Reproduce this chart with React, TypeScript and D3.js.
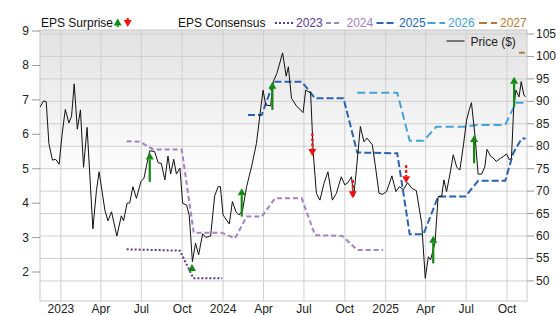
import React from "react";
import * as d3 from "d3";

const W = 556, H = 315;
const L = 40, R = 527, T = 30, B = 301;

const priceData: [string, number][] = [
  ["2022-11-15", 88.7], ["2022-11-23", 90.1], ["2022-11-29", 89.9], ["2022-12-05", 80.6],
  ["2022-12-13", 76.9], ["2022-12-20", 77.1], ["2022-12-28", 76.0], ["2023-01-04", 82.9],
  ["2023-01-11", 88.2], ["2023-01-19", 85.2], ["2023-01-25", 86.7], ["2023-01-31", 93.9],
  ["2023-02-07", 83.8], ["2023-02-14", 88.1], ["2023-02-21", 75.3], ["2023-03-01", 84.2],
  ["2023-03-14", 61.6], ["2023-03-22", 70.1], ["2023-03-28", 74.3], ["2023-04-10", 65.8],
  ["2023-04-17", 63.4], ["2023-04-25", 65.4], ["2023-05-07", 60.0], ["2023-05-17", 64.5],
  ["2023-05-22", 63.4], ["2023-05-30", 67.3], ["2023-06-05", 67.4], ["2023-06-12", 71.0],
  ["2023-06-20", 68.4], ["2023-06-30", 72.1], ["2023-07-07", 72.9], ["2023-07-13", 75.8],
  ["2023-07-20", 79.0], ["2023-07-31", 78.8], ["2023-08-08", 76.3], ["2023-08-15", 76.2],
  ["2023-08-23", 72.5], ["2023-08-30", 77.8], ["2023-09-05", 73.8], ["2023-09-12", 77.1],
  ["2023-09-18", 73.8], ["2023-09-26", 75.1], ["2023-10-02", 67.3], ["2023-10-11", 66.9],
  ["2023-10-17", 64.5], ["2023-10-24", 54.3], ["2023-10-31", 58.4], ["2023-11-07", 55.8],
  ["2023-11-16", 60.5], ["2023-11-23", 59.7], ["2023-12-04", 60.0], ["2023-12-13", 68.9],
  ["2023-12-21", 71.0], ["2023-12-26", 71.0], ["2024-01-01", 64.7], ["2024-01-15", 62.7],
  ["2024-01-22", 67.7], ["2024-01-30", 65.4], ["2024-02-06", 64.7], ["2024-02-14", 65.8],
  ["2024-02-23", 71.0], ["2024-03-05", 75.4], ["2024-03-16", 80.6], ["2024-03-24", 87.0],
  ["2024-03-31", 92.5], ["2024-04-06", 89.2], ["2024-04-17", 89.0], ["2024-04-23", 94.4],
  ["2024-05-01", 96.2], ["2024-05-14", 100.8], ["2024-05-22", 95.6], ["2024-05-27", 97.7],
  ["2024-06-03", 90.7], ["2024-06-14", 89.0], ["2024-06-29", 87.5], ["2024-07-05", 92.5],
  ["2024-07-10", 92.2], ["2024-07-16", 92.0], ["2024-07-22", 78.4], ["2024-07-29", 69.5],
  ["2024-08-06", 68.0], ["2024-08-15", 71.7], ["2024-08-24", 74.3], ["2024-09-03", 68.0],
  ["2024-09-12", 69.5], ["2024-09-23", 73.2], ["2024-10-01", 71.4], ["2024-10-08", 71.9],
  ["2024-10-16", 73.2], ["2024-10-21", 68.8], ["2024-10-27", 74.7], ["2024-11-05", 84.4],
  ["2024-11-13", 81.0], ["2024-11-20", 81.8], ["2024-12-02", 80.3], ["2024-12-09", 75.4],
  ["2024-12-17", 69.5], ["2024-12-25", 69.3], ["2025-01-03", 69.9], ["2025-01-15", 73.4],
  ["2025-01-24", 69.9], ["2025-02-01", 71.0], ["2025-02-10", 70.3], ["2025-02-19", 71.9],
  ["2025-03-01", 70.6], ["2025-03-11", 70.1], ["2025-03-18", 65.8], ["2025-03-23", 62.8],
  ["2025-03-31", 50.6], ["2025-04-07", 55.4], ["2025-04-12", 54.7], ["2025-04-22", 58.5],
  ["2025-04-29", 68.8], ["2025-05-07", 68.8], ["2025-05-12", 72.5], ["2025-05-18", 69.9],
  ["2025-05-26", 74.0], ["2025-06-02", 78.1], ["2025-06-10", 75.3], ["2025-06-17", 74.7],
  ["2025-06-25", 80.3], ["2025-07-02", 85.8], ["2025-07-08", 88.1], ["2025-07-13", 89.7],
  ["2025-07-21", 82.3], ["2025-07-28", 73.8], ["2025-08-05", 73.8], ["2025-08-12", 75.4],
  ["2025-08-17", 79.3], ["2025-08-25", 77.8], ["2025-09-01", 77.3], ["2025-09-07", 76.6],
  ["2025-09-16", 77.3], ["2025-09-24", 77.8], ["2025-09-30", 78.3], ["2025-10-06", 77.0],
  ["2025-10-11", 77.3], ["2025-10-16", 88.4], ["2025-10-21", 92.5], ["2025-10-28", 91.0],
  ["2025-11-02", 94.4], ["2025-11-08", 91.4], ["2025-11-12", 91.0],
];

const cons2023: [string, number][] = [
  ["2023-05-29", 2.66], ["2023-07-28", 2.64], ["2023-09-26", 2.62], ["2023-10-26", 1.82], ["2023-12-30", 1.82],
];
const cons2024: [string, number][] = [
  ["2023-05-29", 5.80], ["2023-06-28", 5.78], ["2023-07-28", 5.56], ["2023-09-30", 5.56],
  ["2023-10-27", 3.14], ["2023-12-29", 3.14], ["2024-01-28", 2.98], ["2024-02-23", 3.61],
  ["2024-03-28", 3.61], ["2024-04-27", 4.14], ["2024-06-26", 4.14], ["2024-07-26", 3.07],
  ["2024-09-25", 3.05], ["2024-10-29", 2.64], ["2024-12-26", 2.64],
];
const cons2025: [string, number][] = [
  ["2024-02-26", 6.56], ["2024-03-28", 6.56], ["2024-04-24", 7.53], ["2024-06-26", 7.53],
  ["2024-07-26", 7.05], ["2024-09-28", 7.05], ["2024-10-29", 5.47], ["2025-01-27", 5.45],
  ["2025-02-24", 3.10], ["2025-03-27", 3.10], ["2025-04-29", 4.19], ["2025-06-29", 4.19],
  ["2025-07-28", 4.65], ["2025-09-27", 4.65], ["2025-10-15", 5.45], ["2025-11-03", 5.88],
  ["2025-11-12", 5.88],
];
const cons2026: [string, number][] = [
  ["2024-10-29", 7.21], ["2025-01-27", 7.21], ["2025-02-24", 5.81], ["2025-03-27", 5.81],
  ["2025-04-25", 6.22], ["2025-06-29", 6.22], ["2025-07-24", 6.27], ["2025-09-27", 6.27],
  ["2025-10-21", 6.92], ["2025-11-12", 6.92],
];
const cons2027: [string, number][] = [
  ["2025-10-28", 8.37], ["2025-11-10", 8.37],
];

// EPS surprises: [date, consensus, actual]
const surprises: [string, number, number][] = [
  ["2023-07-20", 4.62, 5.47], ["2023-10-23", 2.06, 2.23], ["2024-02-12", 3.61, 4.43],
  ["2024-04-21", 6.71, 7.53], ["2024-07-20", 6.03, 5.37], ["2024-10-19", 4.67, 4.14],
  ["2025-02-16", 5.11, 4.58], ["2025-04-18", 2.25, 3.05], ["2025-07-19", 5.16, 5.98],
  ["2025-10-17", 6.80, 7.67],
];

const epsTicks = [2, 3, 4, 5, 6, 7, 8, 9];
const priceTicks = [50, 55, 60, 65, 70, 75, 80, 85, 90, 95, 100, 105];
const seriesNames = ["2023", "2024", "2025", "2026", "2027"];
const seriesColors = ["#5b3a8f", "#a084c4", "#2a63b0", "#45a3d6", "#b07c35"];
const seriesDash = ["2,2", "5,3", "7,3", "8,4", "8,4"];
const consSeries = [cons2023, cons2024, cons2025, cons2026, cons2027];

const parse = d3.timeParse("%Y-%m-%d");
const FONT = "'Liberation Sans', Arial, Helvetica, sans-serif";

export default function App() {
  const x = d3.scaleTime()
    .domain([parse("2022-11-15")!, parse("2025-11-15")!])
    .range([L, R]);
  const yEps = d3.scaleLinear().domain([1.158, 9.03]).range([B, T]);
  const yPrice = d3.scaleLinear().domain([45.53, 105.89]).range([B, T]);

  const xTicks = d3.timeMonth.range(parse("2023-01-01")!, parse("2025-11-01")!, 3);
  const fmtTick = (d: Date) => (d.getMonth() === 0 ? d3.timeFormat("%Y")(d) : d3.timeFormat("%b")(d));

  const priceLine = d3.line<[string, number]>()
    .x((d) => x(parse(d[0])!))
    .y((d) => yPrice(d[1]));
  const epsLine = d3.line<[string, number]>()
    .x((d) => x(parse(d[0])!))
    .y((d) => yEps(d[1]));

  const arrow = (cx: number, y0: number, y1: number, up: boolean, color: string, dashed: boolean, key: string) => {
    const hh = 7, hw = 4;
    const yBase = up ? y1 + hh : y1 - hh;
    return (
      <g key={key}>
        <line x1={cx} x2={cx} y1={y0} y2={yBase} stroke={color} strokeWidth={2.2}
          strokeDasharray={dashed ? "3,2" : undefined} />
        <path d={`M${cx - hw},${yBase}L${cx + hw},${yBase}L${cx},${y1}Z`} fill={color} />
      </g>
    );
  };

  const legendSamples = [
    [275, 293, 296], [326, 342, 346.5], [376.5, 396.5, 399], [427.5, 445, 448], [479, 497, 500],
  ];

  return (
    <svg width={W} height={H} style={{ position: "absolute", left: 0, top: 0, fontFamily: FONT }}>
      <defs>
        <linearGradient id="bg" x1="0" y1="0" x2="0" y2="1">
          <stop offset="0" stopColor="#e2e2e2" />
          <stop offset="0.55" stopColor="#ffffff" />
          <stop offset="1" stopColor="#ffffff" />
        </linearGradient>
        <clipPath id="plot">
          <rect x={L} y={T} width={R - L} height={B - T} />
        </clipPath>
      </defs>
      <rect x={0} y={0} width={W} height={H} fill="#fff" />
      <rect x={L} y={T} width={R - L} height={B - T} fill="url(#bg)" />

      {/* grid */}
      {priceTicks.map((p) => (
        <line key={"hg" + p} x1={L} x2={R} y1={yPrice(p)} y2={yPrice(p)} stroke="#cfcfcf" strokeWidth={1} />
      ))}
      {xTicks.map((d, i) => (
        <line key={"vg" + i} x1={x(d)} x2={x(d)} y1={T} y2={B} stroke="#cfcfcf" strokeWidth={1} />
      ))}
      <rect x={L} y={T} width={R - L} height={B - T} fill="none" stroke="#c8c8c8" strokeWidth={1} />

      {/* axes */}
      {epsTicks.map((v) => (
        <g key={"lt" + v}>
          <line x1={32} x2={L} y1={yEps(v)} y2={yEps(v)} stroke="#999" />
          <text x={29} y={yEps(v) + 4} textAnchor="end" fontSize={12} fill="#222">{v}</text>
        </g>
      ))}
      {priceTicks.map((p) => (
        <g key={"rt" + p}>
          <line x1={R} x2={534} y1={yPrice(p)} y2={yPrice(p)} stroke="#999" />
          <text x={536} y={yPrice(p) + 4} textAnchor="start" fontSize={12} fill="#222">{p}</text>
        </g>
      ))}
      {xTicks.map((d, i) => (
        <text key={"xt" + i} x={x(d)} y={313} textAnchor="middle" fontSize={12} fill="#222">{fmtTick(d)}</text>
      ))}

      <g clipPath="url(#plot)">
        {consSeries.map((s, i) => (
          <path key={"c" + i} d={epsLine(s)!} fill="none" stroke={seriesColors[i]} strokeWidth={2}
            strokeDasharray={seriesDash[i]} />
        ))}
        <path d={priceLine(priceData)!} fill="none" stroke="#111" strokeWidth={1} />
        {surprises.map((s, i) => {
          const up = s[2] > s[1];
          return arrow(x(parse(s[0])!), yEps(s[1]), yEps(s[2]), up, up ? "#138a13" : "#f01010", !up, "a" + i);
        })}
      </g>

      {/* price legend */}
      <line x1={446.5} x2={464.5} y1={41} y2={41} stroke="#777" strokeWidth={2} />
      <text x={470.5} y={45.5} fontSize={12} fill="#222">Price ($)</text>

      {/* top legend */}
      <text x={41} y={27} fontSize={12} fill="#111">EPS Surprise</text>
      {arrow(117.7, 27, 18.5, true, "#138a13", false, "lg")}
      {arrow(127.7, 18, 27, false, "#f01010", false, "lr")}
      <text x={178} y={27} fontSize={12} fill="#111">EPS Consensus</text>
      {seriesNames.map((n, i) => (
        <g key={"lg" + n}>
          <line x1={legendSamples[i][0]} x2={legendSamples[i][1]} y1={23} y2={23}
            stroke={seriesColors[i]} strokeWidth={2} strokeDasharray={seriesDash[i]} />
          <text x={legendSamples[i][2]} y={27} fontSize={12} fill={seriesColors[i]}>{n}</text>
        </g>
      ))}
    </svg>
  );
}
